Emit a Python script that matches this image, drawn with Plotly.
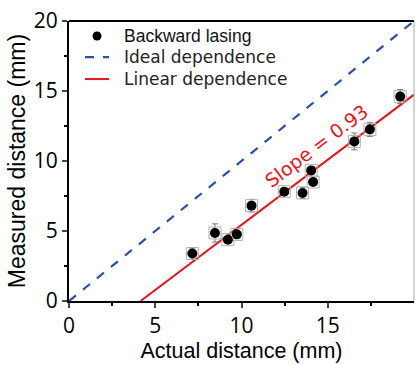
import plotly.graph_objects as go

actual = [7.15, 8.46, 9.21, 9.73, 10.58, 12.48, 13.54, 14.04, 14.15, 16.54, 17.44, 19.2]
measured = [3.39, 4.86, 4.38, 4.76, 6.81, 7.81, 7.72, 9.33, 8.5, 11.4, 12.26, 14.6]
err = [0.4, 0.65, 0.15, 0.25, 0.45, 0.25, 0.4, 0.25, 0.25, 0.6, 0.5, 0.5]

ideal_x = [0, 20]
ideal_y = [0, 20]
slope = 0.93
intercept = -3.86
lin_x = [-intercept / slope, 20]
lin_y = [slope * x + intercept for x in lin_x]

x_ticks = [0, 5, 10, 15]
y_ticks = [0, 5, 10, 15, 20]
legend_names = ["Backward lasing", "Ideal dependence", "Linear dependence"]

BLUE = "#2a4fa8"
RED = "#e8141b"

fig = go.Figure()
fig.add_trace(go.Scatter(x=ideal_x, y=ideal_y, mode="lines", name=legend_names[1],
                         line=dict(color=BLUE, width=2.2, dash="dash")))
fig.add_trace(go.Scatter(x=lin_x, y=lin_y, mode="lines", name=legend_names[2],
                         line=dict(color=RED, width=2)))
fig.add_trace(go.Scatter(x=actual, y=measured, mode="markers", showlegend=False,
                         marker=dict(symbol="square-open", size=12, color="#b0b0b0", line=dict(width=1)),
                         error_y=dict(type="data", array=err, color="#777777", thickness=1, width=3)))
fig.add_trace(go.Scatter(x=actual, y=measured, mode="markers", name=legend_names[0],
                         marker=dict(symbol="circle", size=10, color="black")))

fig.add_annotation(x=14.33, y=11.06, text="Slope = 0.93", showarrow=False, textangle=-37,
                   font=dict(family="DejaVu Sans", size=19, color=RED))

# custom legend (pixel layout converted to paper coords)
L, R, T, B = 69, 414, 21, 300.7
def px(x):
    return (x - L) / (R - L)
def py(y):
    return (B - y) / (B - T)

rows = [36, 57, 79]
fig.add_shape(type="circle", xref="paper", yref="paper",
              x0=px(92.5), x1=px(101.5), y0=py(40.5), y1=py(31.5),
              fillcolor="black", line=dict(color="black", width=0))
fig.add_shape(type="line", xref="paper", yref="paper", x0=px(85), x1=px(109), y0=py(rows[1]), y1=py(rows[1]),
              line=dict(color=BLUE, width=2.2, dash="dash"))
fig.add_shape(type="line", xref="paper", yref="paper", x0=px(85), x1=px(109), y0=py(rows[2]), y1=py(rows[2]),
              line=dict(color=RED, width=2))
fonts = [dict(family="Arial", size=17.5, color="#111"),
         dict(family="DejaVu Sans", size=17, color="#222"),
         dict(family="DejaVu Sans", size=17, color="#222")]
for name, ry, f in zip(legend_names, rows, fonts):
    fig.add_annotation(xref="paper", yref="paper", x=px(122), y=py(ry), text=name, showarrow=False,
                       xanchor="left", yanchor="middle", font=f)

fig.add_shape(type="line", xref="paper", yref="paper", x0=1, x1=1, y0=0, y1=1,
              line=dict(color="#aaaaaa", width=1))
fig.add_shape(type="line", xref="paper", yref="paper", x0=0, x1=1, y0=1, y1=1,
              line=dict(color="black", width=2))

fig.update_layout(
    width=416, height=365,
    margin=dict(l=L, r=416 - R, t=T, b=365 - B),
    plot_bgcolor="white", paper_bgcolor="white",
    showlegend=False,
    font=dict(family="Open Sans", color="black"),
)
fig.update_xaxes(range=[0, 20], tickvals=x_ticks, ticks="outside", ticklen=5, tickwidth=1.5,
                 showline=True, linecolor="black", linewidth=2, mirror=False, showgrid=False,
                 zeroline=False, tickfont=dict(size=21, family="Open Sans"),
                 title=dict(text="Actual distance (mm)", font=dict(size=21.5, family="Arial"), standoff=3),
                 minor=dict(tickvals=[2.5, 7.5, 12.5, 17.5], ticks="outside", ticklen=3, tickcolor="black", tickwidth=1.5))
fig.update_yaxes(range=[0, 20], tickvals=y_ticks, ticks="outside", ticklen=5, tickwidth=1.5,
                 showline=True, linecolor="black", linewidth=2, mirror=False, showgrid=False,
                 zeroline=False, tickfont=dict(size=21, family="Open Sans"),
                 title=dict(text="Measured distance (mm)", font=dict(size=23, family="Arial"), standoff=2),
                 minor=dict(tickvals=[2.5, 7.5, 12.5, 17.5], ticks="outside", ticklen=3, tickcolor="black", tickwidth=1.5))

fig.write_html("out.html")
